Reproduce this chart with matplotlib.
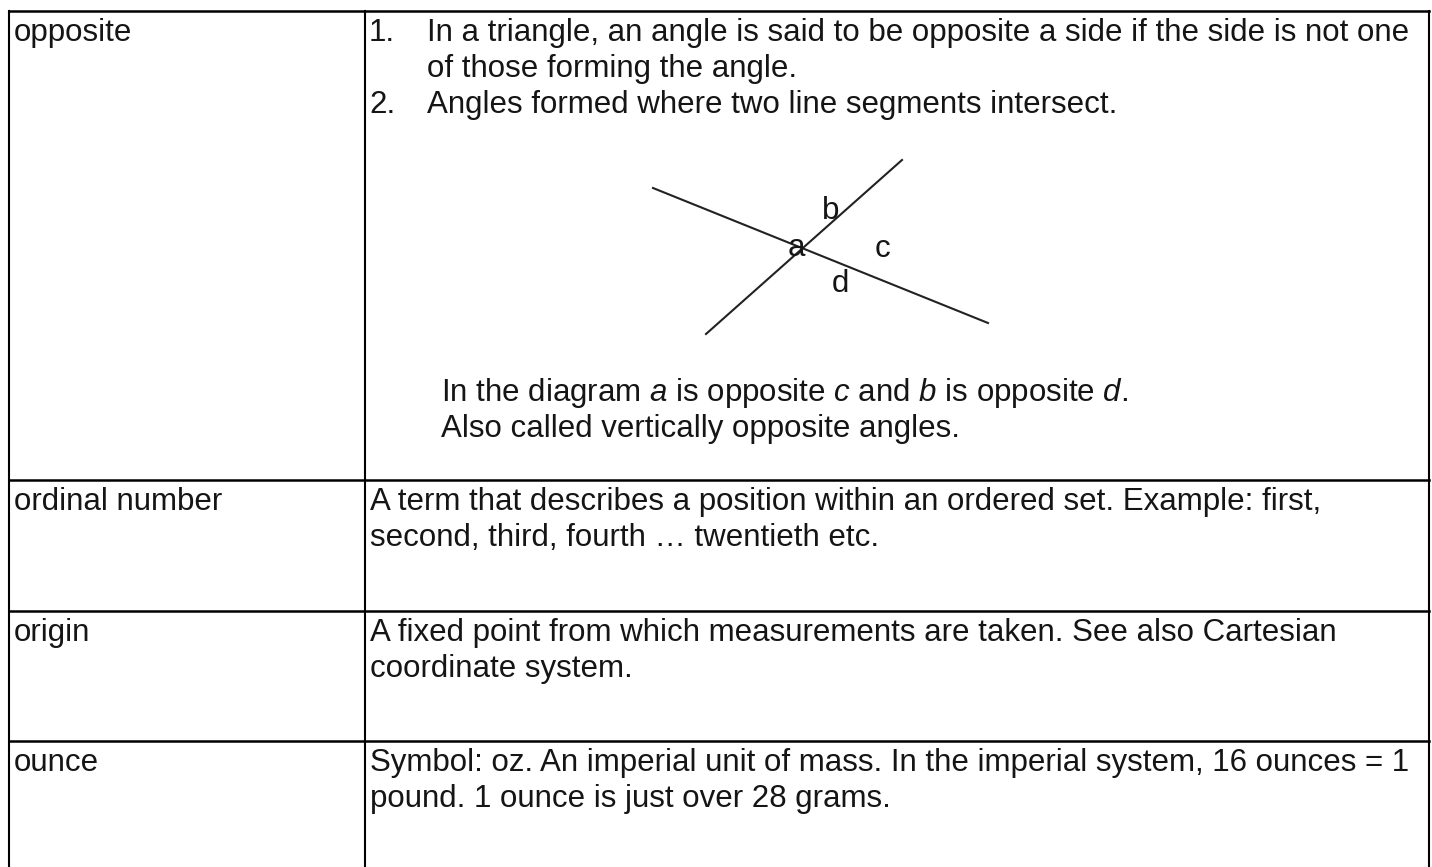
import matplotlib.pyplot as plt

# Glossary rows
terms = ['opposite', 'ordinal number', 'origin', 'ounce']
definitions = [
    None,  # drawn separately (numbered list + diagram)
    ['A term that describes a position within an ordered set. Example: first,',
     'second, third, fourth \u2026 twentieth etc.'],
    ['A fixed point from which measurements are taken. See also Cartesian',
     'coordinate system.'],
    ['Symbol: oz. An imperial unit of mass. In the imperial system, 16 ounces = 1',
     'pound. 1 ounce is just over 28 grams.'],
]
opposite_items = [
    ('1.', ['In a triangle, an angle is said to be opposite a side if the side is not one',
            'of those forming the angle.']),
    ('2.', ['Angles formed where two line segments intersect.']),
]
opposite_notes = [r'In the diagram $\mathit{a}$ is opposite $\mathit{c}$ and $\mathit{b}$ is opposite $\mathit{d}$.',
                  'Also called vertically opposite angles.']

# Table grid (pixel layout)
row_tops = [11, 480, 611, 741]
col_edges = [9, 365, 1429]
bottom = 870

# Diagram: two intersecting segments and angle labels
diagram_lines = [((653, 188), (988, 323)), ((706, 334), (902, 160))]
angle_labels = [('a', 796, 248), ('b', 831, 211), ('c', 882, 249), ('d', 840, 284)]

plt.rcParams['font.family'] = ['Liberation Sans', 'DejaVu Sans']
plt.rcParams['mathtext.fontset'] = 'custom'
plt.rcParams['mathtext.rm'] = 'Liberation Sans'
plt.rcParams['mathtext.it'] = 'Liberation Sans:italic'

fig = plt.figure(figsize=(14.32, 8.67), dpi=100)
ax = fig.add_axes([0, 0, 1, 1])
ax.set_xlim(0, 1432)
ax.set_ylim(867, 0)
ax.axis('off')

fs = 22.5
line_h = 36
ink = '#151515'
pad_top = 22

# grid lines
for y in row_tops:
    ax.plot([col_edges[0], col_edges[-1]], [y, y], color='black', lw=1.8)
for x in col_edges:
    ax.plot([x, x], [row_tops[0], bottom], color='black', lw=1.5)

# left column terms
for y, term in zip(row_tops, terms):
    ax.text(14, y + pad_top, term, fontsize=fs, color=ink, va='center', ha='left')

# row 1: numbered items
y = row_tops[0] + pad_top
for num, lines in opposite_items:
    ax.text(369, y, num, fontsize=fs, color=ink, va='center')
    for ln in lines:
        ax.text(427, y, ln, fontsize=fs, color=ink, va='center')
        y += line_h

for (x0, y0), (x1, y1) in diagram_lines:
    ax.plot([x0, x1], [y0, y1], color='#222222', lw=1.5)
for lab, x, yy in angle_labels:
    ax.text(x, yy, lab, fontsize=fs, color=ink, va='center', ha='center')

for i, ln in enumerate(opposite_notes):
    ax.text(441, 393 + i * line_h, ln, fontsize=fs, color=ink, va='center')

# other rows
for top, lines in zip(row_tops[1:], definitions[1:]):
    for i, ln in enumerate(lines):
        ax.text(370, top + pad_top + i * line_h, ln, fontsize=fs, color=ink, va='center')

fig.savefig('out.png', dpi=100)
